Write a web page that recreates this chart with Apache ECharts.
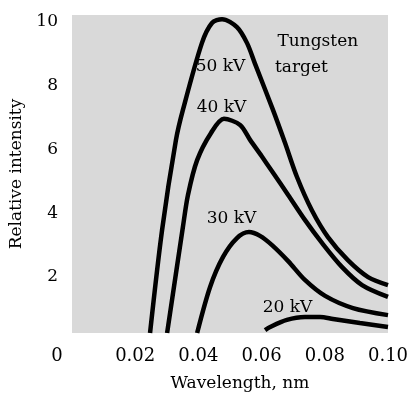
<!DOCTYPE html>
<html>
<head>
<meta charset="utf-8">
<script src="https://cdn.jsdelivr.net/npm/echarts@6/dist/echarts.min.js"></script>
<style>
html,body{margin:0;padding:0;background:#fff;}
#chart{width:413px;height:399px;}
</style>
</head>
<body>
<div id="chart"></div>
<script>
// Wavelength (nm) / relative intensity pairs
var kv50 = [[0.0247,0.25],[0.0285,3.47],[0.0329,6.29],[0.0351,7.23],[0.0411,9.32],[0.0443,9.95],[0.0475,10.07],[0.0522,9.82],[0.0554,9.32],[0.0579,8.68],[0.0636,7.23],[0.0674,6.20],[0.0712,5.13],[0.0759,4.09],[0.0810,3.25],[0.0873,2.53],[0.0937,2.00],[0.1000,1.75]];
var kv40 = [[0.0301,0.25],[0.0351,3.57],[0.0367,4.57],[0.0396,5.66],[0.0440,6.51],[0.0481,6.95],[0.0532,6.76],[0.0563,6.30],[0.0601,5.77],[0.0633,5.31],[0.0684,4.57],[0.0737,3.79],[0.0791,3.07],[0.0854,2.32],[0.0918,1.75],[0.1000,1.38]];
var kv30 = [[0.0396,0.25],[0.0437,1.69],[0.0478,2.63],[0.0522,3.22],[0.0560,3.41],[0.0595,3.29],[0.0633,3.00],[0.0684,2.50],[0.0737,1.91],[0.0801,1.41],[0.0889,1.03],[0.1000,0.81]];
var kv20 = [[0.0611,0.34],[0.0627,0.44],[0.0680,0.66],[0.0737,0.75],[0.0785,0.75],[0.0826,0.69],[0.0911,0.56],[0.1000,0.44]];
var xTicks = [0, 0.02, 0.04, 0.06, 0.08, 0.10];
var yTicks = [2, 4, 6, 8, 10];
var annotations = [
  {name:'50 kV', value:[0.0470, 8.60]},
  {name:'40 kV', value:[0.0473, 7.29]},
  {name:'30 kV', value:[0.0505, 3.82]},
  {name:'20 kV', value:[0.0682, 1.06]},
  {name:'Tungsten', value:[0.0778, 9.36]},
  {name:'target', value:[0.0726, 8.54]}
];

var FONT = 'DejaVu Serif';
var chart = echarts.init(document.getElementById('chart'), null, {renderer:'canvas'});
function curve(name, data){
  return {name:name, type:'line', data:data, smooth:0.3, symbol:'none',
    lineStyle:{color:'#000', width:4.5}, clip:true, silent:true};
}
chart.setOption({
  animation:false,
  backgroundColor:'#fff',
  grid:{left:72, right:25, top:15, bottom:66, show:true, backgroundColor:'#d9d9d9', borderWidth:0},
  xAxis:{type:'value', min:0, max:0.10, interval:0.02,
    name:'Wavelength, nm', nameLocation:'middle', nameGap:42,
    nameTextStyle:{fontFamily:FONT, fontSize:17, color:'#000', padding:[0,0,0,20]},
    axisLine:{show:false}, axisTick:{show:false}, splitLine:{show:false},
    axisLabel:{customValues:xTicks, margin:14, fontFamily:FONT, fontSize:18, color:'#000',
      formatter:function(v){ return v===0 ? '{z|0}' : v.toFixed(2); },
      rich:{z:{fontFamily:FONT, fontSize:18, color:'#000', padding:[0,30,0,0]}}}
  },
  yAxis:{type:'value', min:0.25, max:10.2,
    name:'Relative intensity', nameLocation:'middle', nameGap:33,
    nameTextStyle:{fontFamily:FONT, fontSize:17, color:'#000'},
    axisLine:{show:false}, axisTick:{show:false}, splitLine:{show:false},
    axisLabel:{customValues:yTicks, margin:14, fontFamily:FONT, fontSize:17, color:'#000'}
  },
  series:[
    curve('50 kV', kv50), curve('40 kV', kv40), curve('30 kV', kv30), curve('20 kV', kv20),
    {type:'scatter', data:annotations, symbolSize:1, itemStyle:{color:'rgba(0,0,0,0)'}, silent:true, z:5,
      label:{show:true, position:'inside', formatter:'{b}', fontFamily:FONT, fontSize:17,
        color:'#000', opacity:1, textBorderWidth:0, textShadowBlur:0}}
  ]
});
</script>
</body>
</html>
